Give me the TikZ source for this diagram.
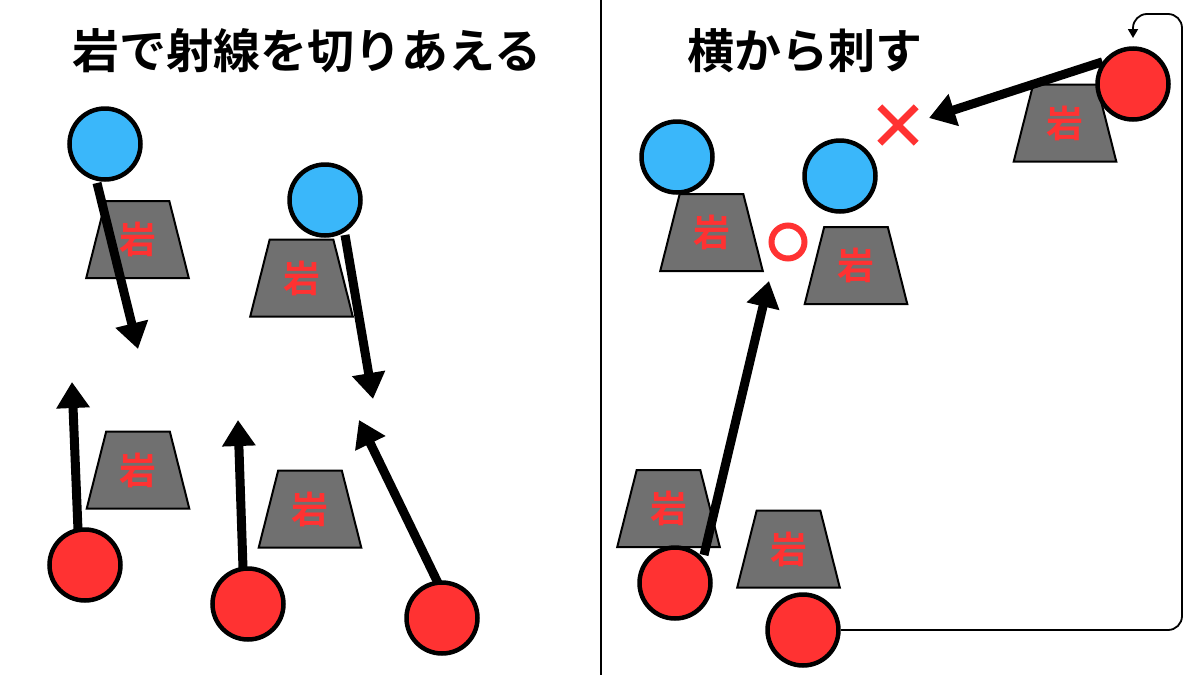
\documentclass[tikz,border=0pt]{standalone}
\usepackage{fontspec}
\usetikzlibrary{arrows.meta,shapes.geometric}
\newfontfamily\cjk{Noto Sans CJK JP}[BoldFont={Noto Sans CJK JP Bold}]
\definecolor{pblue}{RGB}{58,183,250}
\definecolor{pred}{RGB}{255,50,50}
\definecolor{rockgray}{RGB}{112,112,112}
\tikzset{
  bluep/.style={circle,draw=black,line width=4.5pt,fill=pblue,minimum size=71pt,inner sep=0pt},
  redp/.style={circle,draw=black,line width=4.5pt,fill=pred,minimum size=71pt,inner sep=0pt},
  rock/.style={trapezium,trapezium angle=72,trapezium stretches=true,minimum width=103pt,minimum height=77pt,inner sep=0pt,draw=black,line width=2pt,fill=rockgray,text=pred,font=\cjk\bfseries\fontsize{37}{37}\selectfont},
  shot/.style={line width=9pt,-{Triangle[length=26pt,width=32pt]}},
  title/.style={font=\cjk\bfseries\fontsize{47}{47}\selectfont}
}
\begin{document}
\begin{tikzpicture}[x=1pt,y=-1pt]
\useasboundingbox (0,0) rectangle (1200,675);
\fill[white] (0,0) rectangle (1200,675);
% divider
\coordinate (dtop) at (601,0);
\coordinate (dbot) at (601,675);
\draw[line width=2pt] (dtop) -- (dbot);
% titles
\node[title] (t1) at (307,51) {岩で射線を切りあえる};
\node[title] (t2) at (805,51) {横から刺す};
% ---------- left panel ----------
\node[rock] (r1) at (137.5,239.5) {岩};
\node[rock] (r2) at (301.5,278) {岩};
\node[rock] (r3) at (138,470) {岩};
\node[rock] (r4) at (310,509) {岩};
\node[bluep] (b1) at (105,144) {};
\node[bluep] (b2) at (325,200) {};
\node[redp] (p1) at (85,565) {};
\node[redp] (p2) at (248,604) {};
\node[redp] (p3) at (442,618) {};
\coordinate (a1) at (138,349);
\coordinate (a2) at (373,399);
\coordinate (a3) at (72,382);
\coordinate (a4) at (238,420);
\coordinate (a5) at (359,420);
\draw[shot] (97,183) -- (a1);
\draw[shot] (345,235) -- (a2);
\draw[shot] (78,530) -- (a3);
\draw[shot] (243,568) -- (a4);
\draw[shot] (438,583) -- (a5);
% ---------- right panel ----------
\node[rock] (r5) at (711.5,232.5) {岩};
\node[rock] (r6) at (856,265.5) {岩};
\node[rock] (r7) at (1065,123) {岩};
\node[rock] (r8) at (668.5,508.5) {岩};
\node[rock] (r9) at (788.5,549) {岩};
\node[bluep] (b3) at (677,157) {};
\node[bluep] (b4) at (840,176) {};
\node[redp] (p4) at (1133,84) {};
\node[redp] (p5) at (675,583) {};
\node[redp] (p6) at (803,630) {};
\coordinate (a6) at (929,118);
\coordinate (a7) at (769,281);
\draw[shot] (p4.144) -- (a6);
\draw[shot] (704,555) -- (a7);
% circle mark and cross
\node[circle,draw=pred,line width=6pt,minimum size=33pt,inner sep=0pt] (ok) at (788,242) {};
\node[minimum size=36pt] (ng) at (898,125) {};
\draw[pred,line width=7pt] (ng.north west) -- (ng.south east) (ng.north east) -- (ng.south west);
% wrap connector
\coordinate (c1) at (857,630);
\coordinate (c2) at (1133,38);
\draw[line width=2pt] (p6.east) -- (c1);
\draw[line width=1.8pt,rounded corners=14pt,-{Triangle[length=9pt,width=10pt]}]
  (c1) -- (1182,630) -- (1182,14) -- (1133,14) -- (c2);
\end{tikzpicture}
\end{document}
